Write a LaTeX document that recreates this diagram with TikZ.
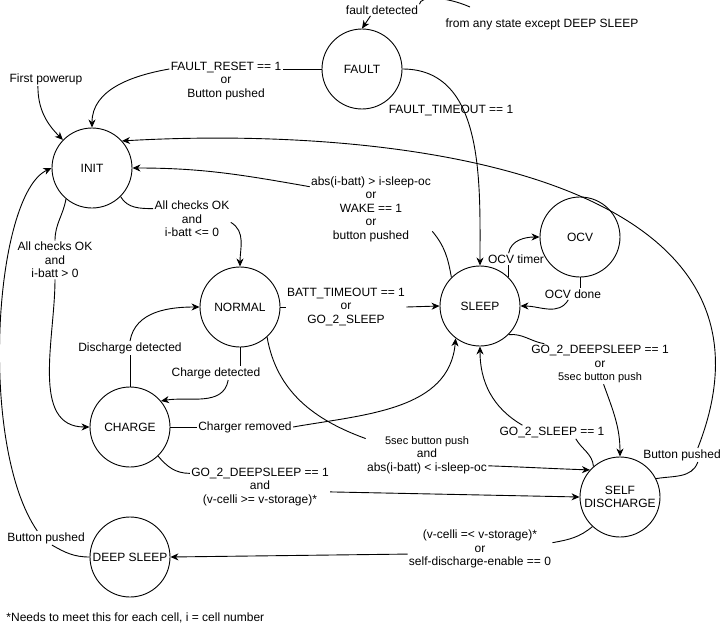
\documentclass[tikz,border=0pt]{standalone}
\usepackage{fontspec}
\setmainfont{Liberation Sans}
\usetikzlibrary{arrows.meta}
\newcommand{\lblsmall}{\fontsize{11}{13.5}\selectfont}

\begin{document}
\begin{tikzpicture}[x=1pt,y=1pt,line width=.9pt,font=\fontsize{12}{13.5}\selectfont,
  >={Stealth[length=8pt,width=7pt,inset=2.5pt]},
  state/.style={draw,circle,minimum size=80pt,inner sep=0pt,align=center},
  lbl/.style={inner sep=1pt,align=center}]
  \useasboundingbox (0,0) rectangle (721,-629);
  \node[state] (fault) at (362,-69) {FAULT};
  \node[state] (init) at (92,-168) {INIT};
  \node[state] (normal) at (240,-307) {NORMAL};
  \node[state] (sleep) at (480,-306) {SLEEP};
  \node[state] (ocv) at (580,-237) {OCV};
  \node[state] (charge) at (130,-427) {CHARGE};
  \node[state] (selfdis) at (620,-497) {SELF\\DISCHARGE};
  \node[state] (dsleep) at (130,-557) {DEEP SLEEP};
  \coordinate (anySrc) at (470,-7);
  \node[lbl] (lblFault) at (382,-10) {fault detected};
  \node[lbl] (lblAny) at (542,-24) {from any state except DEEP SLEEP};
  \node[lbl] (lblPower) at (46,-79) {First powerup};
  \node[lbl] (lblReset) at (226,-81) {FAULT\_RESET == 1\\or\\Button pushed};
  \node[lbl] (lblFaultTo) at (451,-111) {FAULT\_TIMEOUT == 1};
  \node[lbl] (lblWake) at (371,-209) {abs(i-batt) > i-sleep-oc\\or\\WAKE == 1\\or\\button pushed};
  \node[lbl] (lblOk0) at (192,-219) {All checks OK\\and\\i-batt <= 0};
  \node[lbl] (lblOk1) at (55,-260) {All checks OK\\and\\i-batt > 0};
  \node[lbl] (lblDis) at (130,-348) {Discharge detected};
  \node[lbl] (lblChg) at (216,-373) {Charge detected};
  \node[lbl] (lblBatt) at (346,-307) {BATT\_TIMEOUT == 1\\or\\GO\_2\_SLEEP};
  \node[lbl] (lblOcvT) at (516,-259) {OCV timer};
  \node[lbl] (lblOcvD) at (573,-294) {OCV done};
  \node[lbl] (lblDeep) at (600,-364) {GO\_2\_DEEPSLEEP == 1\\or\\{\lblsmall 5sec button push}};
  \node[lbl] (lblGoSl) at (552,-432) {GO\_2\_SLEEP == 1};
  \node[lbl] (lblChgR) at (245,-427) {Charger removed};
  \node[lbl] (lblBtn5) at (427,-455) {{\lblsmall 5sec button push}\\and\\abs(i-batt) < i-sleep-oc};
  \node[lbl] (lblDeep2) at (260,-487) {GO\_2\_DEEPSLEEP == 1\\and\\(v-celli >= v-storage)*};
  \node[lbl] (lblVcell) at (480,-549) {(v-celli =< v-storage)*\\or\\self-discharge-enable == 0};
  \node[lbl] (lblBtnSd) at (682,-455) {Button pushed};
  \node[lbl] (lblBtnDs) at (46,-538) {Button pushed};
  \node[anchor=west,inner sep=0pt] (note) at (6,-618) {*Needs to meet this for each cell, i = cell number};

  \draw (anySrc) .. controls (445,4) and (420,4) .. (lblFault.north east);
  \draw[->] (lblFault.-153) -- (fault.north);
  \draw[->] (lblPower.-139) to[out=-90,in=135] (init.136);
  \draw (fault.west) -- (lblReset.east |- fault.west);
  \draw[->] (lblReset.west |- fault.west) to[out=190,in=90] (init.north);
  \draw[->] (fault.east) to[out=0,in=90] (sleep.north);
  \draw (sleep.135) to[out=100,in=-50] (lblWake.-20);
  \draw[->] (lblWake.160) to[out=170,in=0] (init.east);
  \draw (selfdis.27) to[out=10,in=-110] (lblBtnSd.-24);
  \draw[->] (lblBtnSd.24) .. controls (805,-175) and (400,-125) .. (init.42);
  \draw (init.-45) to[out=-60,in=180] (lblOk0.165);
  \draw[->] (lblOk0.-5) to[out=-30,in=90] (normal.north);
  \draw (init.-130) to[out=-100,in=90] (lblOk1.north);
  \draw[->] (lblOk1.south) to[out=-90,in=180] (charge.west);
  \draw (charge.north) -- (lblDis.south);
  \draw[->] (lblDis.north) to[out=80,in=180] (normal.west);
  \draw (normal.south) -- (lblChg.north -| normal.south);
  \draw[->] (lblChg.-30) to[out=-100,in=10] (charge.40);
  \draw (normal.east) -- (lblBatt.west);
  \draw[->] (lblBatt.east) -- (sleep.west);
  \draw (sleep.45) -- (lblOcvT.south -| sleep.45);
  \draw[->] (lblOcvT.north -| sleep.45) to[out=80,in=180] (ocv.west);
  \draw (ocv.south) -- (lblOcvD.north -| ocv.south);
  \draw[->] (lblOcvD.-129) to[out=-120,in=0] (sleep.east);
  \draw (sleep.-45) to[out=5,in=170] (lblDeep.160);
  \draw[->] (lblDeep.-80) to[out=-70,in=90] (selfdis.north);
  \draw (selfdis.131) to[out=95,in=-60] (lblGoSl.-16);
  \draw[->] (lblGoSl.167) to[out=150,in=-90] (sleep.south);
  \draw (charge.east) -- (lblChgR.west);
  \draw[->] (lblChgR.east) to[out=10,in=-95] (sleep.-127);
  \draw (normal.-48) to[out=-80,in=160] (lblBtn5.165);
  \draw[->] (lblBtn5.-10) to[out=-2,in=178] (selfdis.138);
  \draw (charge.-46) to[out=-50,in=180] (lblDeep2.169);
  \draw[->] (lblDeep2.-4) -- (selfdis.west);
  \draw (selfdis.-133) to[out=-140,in=10] (lblVcell.5);
  \draw[->] (lblVcell.-176) -- (dsleep.east);
  \draw (dsleep.west) to[out=180,in=-30] (lblBtnDs.-50);
  \draw[->] (lblBtnDs.141) .. controls (-22,-445) and (-6,-195) .. (init.west);
\end{tikzpicture}
\end{document}
